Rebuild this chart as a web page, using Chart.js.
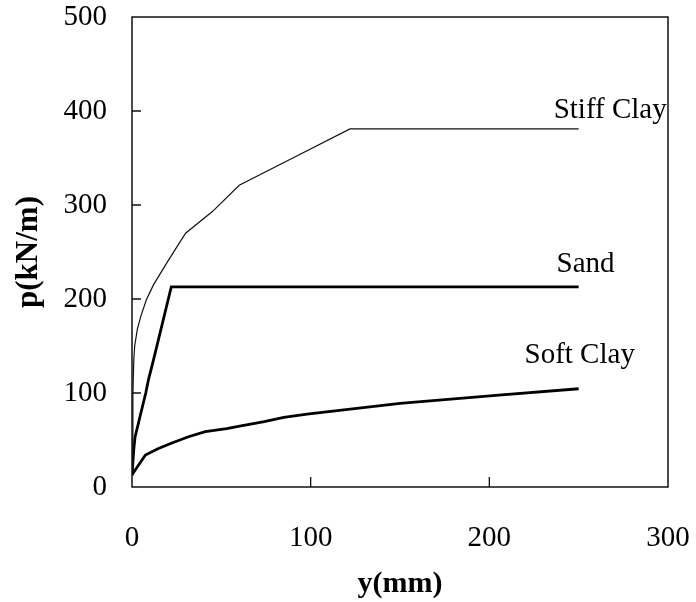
<!DOCTYPE html>
<html>
<head>
<meta charset="utf-8">
<title>p-y curves</title>
<script src="https://cdn.jsdelivr.net/npm/chart.js@4.4.1/dist/chart.umd.min.js"></script>
<style>
  html, body { margin: 0; padding: 0; background: #fff; }
  #wrap { width: 696px; height: 602px; }
</style>
</head>
<body>
<div id="wrap"><canvas id="py" width="696" height="602"></canvas></div>
<script>
// values: y (mm) and p (kN/m)
const stiffY = [0, 0.5, 1, 1.5, 3, 5, 8, 12, 20, 30, 45, 60, 90, 122, 250];
const stiffP = [13, 100, 135, 150, 168, 182, 199, 215, 240, 270, 293, 321, 350, 381, 381];

const sandY = [0, 1, 1.7, 4.5, 7.7, 9.2, 12, 22, 250];
const sandP = [13, 40, 53, 75, 100, 114, 135, 213, 213];

const softY = [0, 7.5, 14.8, 22, 31.6, 41, 53, 61, 74, 85, 98, 150, 207, 250];
const softP = [13, 34, 41, 46.5, 53.5, 59, 62, 65, 69.5, 74, 77.5, 89, 98, 104.5];

const seriesNames = ['Stiff Clay', 'Sand', 'Soft Clay'];
const xTicks = [0, 100, 200, 300];
const yTicks = [0, 100, 200, 300, 400, 500];

function toPoints(xs, ys) {
    return xs.map((x, i) => ({ x: x, y: ys[i] }));
}

// where the curve names sit (data units: left edge, baseline)
const nameAnchors = [
    { text: seriesNames[0], x: 236, y: 393 },
    { text: seriesNames[1], x: 237.6, y: 229 },
    { text: seriesNames[2], x: 219.7, y: 132 }
];

const frameAndTicks = {
    id: 'frameAndTicks',
    afterDatasetsDraw(chart) {
        const { ctx, chartArea: a, scales } = chart;
        ctx.save();
        ctx.strokeStyle = '#111';
        ctx.lineWidth = 1.5;
        ctx.strokeRect(a.left, a.top, a.right - a.left, a.bottom - a.top);
        ctx.lineWidth = 1.3;
        ctx.beginPath();
        yTicks.slice(1, -1).forEach(v => {
            const py = scales.y.getPixelForValue(v);
            ctx.moveTo(a.left, py);
            ctx.lineTo(a.left + 9, py);
        });
        xTicks.slice(1, -1).forEach(v => {
            const px = scales.x.getPixelForValue(v);
            ctx.moveTo(px, a.bottom);
            ctx.lineTo(px, a.bottom - 10);
        });
        ctx.stroke();

        // curve names
        ctx.fillStyle = '#000';
        ctx.font = '29px "Liberation Serif", "Times New Roman", serif';
        ctx.textAlign = 'left';
        ctx.textBaseline = 'alphabetic';
        nameAnchors.forEach(n => {
            ctx.fillText(n.text, scales.x.getPixelForValue(n.x), scales.y.getPixelForValue(n.y));
        });
        ctx.restore();
    }
};

const serif = '"Liberation Serif", "Times New Roman", serif';

new Chart(document.getElementById('py'), {
    type: 'scatter',
    data: {
        datasets: [
            { label: seriesNames[0], data: toPoints(stiffY, stiffP), borderColor: '#111', borderWidth: 1.2 },
            { label: seriesNames[1], data: toPoints(sandY, sandP), borderColor: '#000', borderWidth: 2.8 },
            { label: seriesNames[2], data: toPoints(softY, softP), borderColor: '#000', borderWidth: 2.8 }
        ].map(d => Object.assign(d, { showLine: true, pointRadius: 0, tension: 0, fill: false }))
    },
    options: {
        responsive: false,
        animation: false,
        layout: { padding: { top: 17, right: 28, left: 0, bottom: 0 } },
        plugins: {
            legend: { display: false },
            tooltip: { enabled: false }
        },
        scales: {
            x: {
                type: 'linear',
                min: 0,
                max: 300,
                afterFit: s => { s.height = 115; s.paddingLeft = 0; s.paddingRight = 0; },
                afterBuildTicks: s => { s.ticks = xTicks.map(v => ({ value: v })); },
                grid: { display: false, drawTicks: false },
                border: { display: false },
                ticks: { color: '#000', padding: 34, maxRotation: 0, font: { family: serif, size: 29 } },
                title: {
                    display: true,
                    text: 'y(mm)',
                    color: '#000',
                    padding: { top: 0, bottom: 0 },
                    font: { family: serif, size: 30, weight: 'bold' }
                }
            },
            y: {
                type: 'linear',
                min: 0,
                max: 500,
                afterFit: s => { s.width = 132; s.paddingTop = 0; s.paddingBottom = 0; },
                afterBuildTicks: s => { s.ticks = yTicks.map(v => ({ value: v })); },
                grid: { display: false, drawTicks: false },
                border: { display: false },
                ticks: { color: '#000', padding: 25, font: { family: serif, size: 29 } },
                title: {
                    display: true,
                    text: 'p(kN/m)',
                    color: '#000',
                    padding: { top: 10, bottom: 0 },
                    font: { family: serif, size: 31, weight: 'bold' }
                }
            }
        }
    },
    plugins: [frameAndTicks]
});
</script>
</body>
</html>
